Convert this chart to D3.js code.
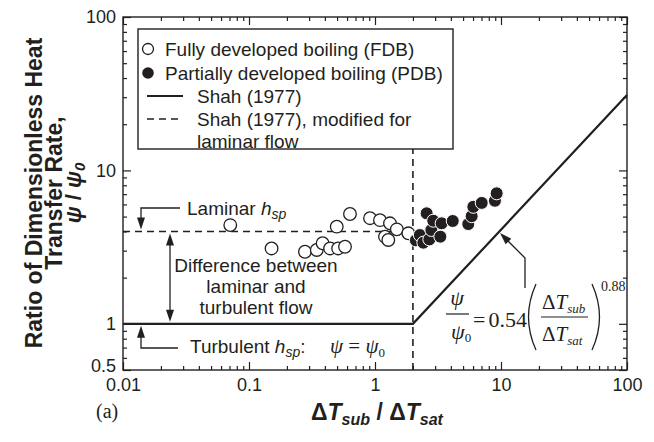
<!DOCTYPE html>
<html><head><meta charset="utf-8">
<script src="https://cdn.jsdelivr.net/npm/d3@7"></script>
<style>body{margin:0;background:#fff}svg{display:block}</style>
</head><body><svg id="c" width="654" height="442"></svg>
<script>
// ---- data ----
const fdbX = [0.071, 0.151, 0.278, 0.345, 0.384, 0.44, 0.51, 0.578, 0.497, 0.633, 0.913, 1.095, 1.315, 1.49, 1.2, 1.275, 1.84];
const fdbY = [4.40, 3.10, 2.95, 3.03, 3.35, 3.10, 3.10, 3.18, 4.30, 5.20, 4.88, 4.74, 4.52, 4.13, 3.70, 3.52, 3.89];
const pdbX = [2.11, 2.27, 2.42, 2.57, 2.7, 2.8, 2.9, 3.3, 3.38, 4.14, 5.5, 5.85, 6.03, 7.03, 8.95, 9.24];
const pdbY = [3.50, 3.79, 3.38, 5.25, 3.55, 4.09, 4.70, 3.70, 4.52, 4.68, 4.47, 5.03, 5.79, 6.14, 6.34, 7.09];
const shahX = [0.01, 2, 100];
const shahY = [1, 1, 31];
const lamX = [0.01, 2];
const lamY = [4, 4];
const regimeX = 2;
const xTicks = [0.01, 0.1, 1, 10, 100];
const xTickLabels = ["0.01", "0.1", "1", "10", "100"];
const yTicks = [0.5, 1, 10, 100];
const yTickLabels = ["0.5", "1", "10", "100"];
const legendLabels = ["Fully developed boiling (FDB)", "Partially developed boiling (PDB)", "Shah (1977)", "Shah (1977), modified for", "laminar flow"];

// ---- setup ----
const W = 654, H = 442, m = {l: 123, r: 27, t: 17, b: 72};
const SANS = "'Liberation Sans', Arial, Helvetica, sans-serif";
const SERIF = "'Liberation Serif', 'Times New Roman', serif";
const INK = "#231f20";
const svg = d3.select("#c");
const x = d3.scaleLog().domain([0.01, 100]).range([m.l, W - m.r]);
const y = d3.scaleLog().domain([0.5, 100]).range([H - m.b, m.t]);
const X0 = m.l, X1 = W - m.r, Y0 = H - m.b, Y1 = m.t;

const xMinor = [];
[0.01, 0.1, 1, 10].forEach(d => { for (let k = 2; k <= 9; k++) xMinor.push(d * k); });
const yMinor = [0.6, 0.7, 0.8, 0.9];
[1, 10].forEach(d => { for (let k = 2; k <= 9; k++) yMinor.push(d * k); });

function styleAxis(g) {
  g.select(".domain").remove();
  g.selectAll(".tick line").attr("stroke", INK).attr("stroke-width", 1.2);
  g.selectAll("text").attr("font-family", SANS).attr("font-size", 18).attr("fill", INK);
}
// bottom
svg.append("g").attr("transform", `translate(0,${Y0})`)
  .call(d3.axisBottom(x).tickValues(xTicks).tickFormat((d, i) => xTickLabels[i]).tickSize(-8).tickPadding(8)).call(styleAxis);
svg.append("g").attr("transform", `translate(0,${Y0})`)
  .call(d3.axisBottom(x).tickValues(xMinor).tickFormat("").tickSize(-4)).call(styleAxis);
// top
svg.append("g").attr("transform", `translate(0,${Y1})`)
  .call(d3.axisTop(x).tickValues(xTicks).tickFormat("").tickSize(-8)).call(styleAxis);
svg.append("g").attr("transform", `translate(0,${Y1})`)
  .call(d3.axisTop(x).tickValues(xMinor).tickFormat("").tickSize(-4)).call(styleAxis);
// left
const gl = svg.append("g").attr("transform", `translate(${X0},0)`)
  .call(d3.axisLeft(y).tickValues(yTicks).tickFormat((d, i) => yTickLabels[i]).tickSize(-8).tickPadding(7)).call(styleAxis);
gl.selectAll(".tick").filter(d => d === 0.5).select("text").attr("dy", "0.1em");
svg.append("g").attr("transform", `translate(${X0},0)`)
  .call(d3.axisLeft(y).tickValues(yMinor).tickFormat("").tickSize(-4)).call(styleAxis);
// right
svg.append("g").attr("transform", `translate(${X1},0)`)
  .call(d3.axisRight(y).tickValues(yTicks).tickFormat("").tickSize(-8)).call(styleAxis);
svg.append("g").attr("transform", `translate(${X1},0)`)
  .call(d3.axisRight(y).tickValues(yMinor).tickFormat("").tickSize(-4)).call(styleAxis);

svg.append("rect").attr("x", X0).attr("y", Y1).attr("width", X1 - X0).attr("height", Y0 - Y1)
  .attr("fill", "none").attr("stroke", INK).attr("stroke-width", 1.4);

// ---- legend geometry ----
const LG = {x: 138, y: 29, w: 315, h: 120};

// ---- lines ----
const line = d3.line().x(d => x(d[0])).y(d => y(d[1]));
svg.append("path").datum(shahX.map((v, i) => [v, shahY[i]])).attr("d", line)
  .attr("fill", "none").attr("stroke", INK).attr("stroke-width", 2.2);
svg.append("path").datum(lamX.map((v, i) => [v, lamY[i]])).attr("d", line)
  .attr("fill", "none").attr("stroke", INK).attr("stroke-width", 1.6).attr("stroke-dasharray", "7,5");
svg.append("line").attr("x1", x(regimeX)).attr("x2", x(regimeX)).attr("y1", Y0).attr("y2", LG.y + LG.h)
  .attr("stroke", INK).attr("stroke-width", 1.6).attr("stroke-dasharray", "7,5");

// ---- points ----
svg.append("g").selectAll("circle").data(fdbX.map((v, i) => [v, fdbY[i]])).join("circle")
  .attr("cx", d => x(d[0])).attr("cy", d => y(d[1])).attr("r", 6.3)
  .attr("fill", "#fff").attr("stroke", INK).attr("stroke-width", 1.3);
svg.append("g").selectAll("circle").data(pdbX.map((v, i) => [v, pdbY[i]])).join("circle")
  .attr("cx", d => x(d[0])).attr("cy", d => y(d[1])).attr("r", 6.5)
  .attr("fill", INK).attr("stroke", "#fff").attr("stroke-width", 1);

// ---- legend ----
const lg = svg.append("g");
lg.append("rect").attr("x", LG.x).attr("y", LG.y).attr("width", LG.w).attr("height", LG.h)
  .attr("fill", "#fff").attr("stroke", INK).attr("stroke-width", 1.4);
const rowY = [49, 73, 96, 119, 141];
lg.append("circle").attr("cx", 148).attr("cy", rowY[0]).attr("r", 5.5).attr("fill", "#fff").attr("stroke", INK).attr("stroke-width", 1.3);
lg.append("circle").attr("cx", 148).attr("cy", rowY[1]).attr("r", 5.8).attr("fill", INK);
lg.append("line").attr("x1", 147).attr("x2", 183).attr("y1", rowY[2]).attr("y2", rowY[2]).attr("stroke", INK).attr("stroke-width", 2);
lg.append("line").attr("x1", 147).attr("x2", 183).attr("y1", rowY[3]).attr("y2", rowY[3]).attr("stroke", INK).attr("stroke-width", 1.6).attr("stroke-dasharray", "7,5");
const legX = [165, 165, 197, 197, 197];
legendLabels.forEach((t, i) => {
  lg.append("text").attr("x", legX[i]).attr("y", rowY[i] + 6.8).text(t)
    .attr("font-family", SANS).attr("font-size", 19).attr("fill", INK);
});

// ---- arrows ----
function arrowHead(tx, ty, fx, fy, len = 12, half = 4) {
  const dx = tx - fx, dy = ty - fy, L = Math.hypot(dx, dy), ux = dx / L, uy = dy / L;
  const bx = tx - ux * len, by = ty - uy * len;
  svg.append("path").attr("d", `M${tx},${ty}L${bx - uy * half},${by + ux * half}L${bx + uy * half},${by - ux * half}Z`).attr("fill", INK);
}
function poly(pts) {
  svg.append("path").attr("d", d3.line()(pts)).attr("fill", "none").attr("stroke", INK).attr("stroke-width", 1.3);
}
const yLam = y(lamY[0]), yTurb = y(shahY[0]);
poly([[180, 208], [141, 208], [141, yLam - 8]]);
arrowHead(141, yLam - 2, 141, 208);
poly([[170, yLam + 8], [170, yTurb - 8]]);
arrowHead(170, yLam + 2, 170, yTurb);
arrowHead(170, yTurb - 2, 170, yLam);
poly([[178, 348], [141, 348], [141, yTurb + 8]]);
arrowHead(141, yTurb + 2, 141, 348);
poly([[525, 288], [525, 258], [505, 238]]);
arrowHead(500, 233, 525, 258);

// ---- annotations ----
function txt(xp, yp, opts = {}) {
  return svg.append("text").attr("x", xp).attr("y", yp).attr("font-family", opts.ff || SANS)
    .attr("font-size", opts.fs || 19).attr("fill", INK).attr("text-anchor", opts.anchor || "start");
}
let t = txt(187, 215);
t.append("tspan").text("Laminar ");
t.append("tspan").text("h").attr("font-style", "italic");
t.append("tspan").text("sp").attr("font-style", "italic").attr("font-size", 14).attr("dy", 4);

["Difference between", "laminar and", "turbulent flow"].forEach((s, i) => {
  txt(256, 272 + i * 21, {anchor: "middle"}).text(s);
});

t = txt(190, 353);
t.append("tspan").text("Turbulent ");
t.append("tspan").text("h").attr("font-style", "italic");
t.append("tspan").text("sp").attr("font-style", "italic").attr("font-size", 14).attr("dy", 4);
t.append("tspan").text(":").attr("dy", -4);
t = txt(330, 353, {ff: SERIF, fs: 21});
t.append("tspan").text("ψ").attr("font-style", "italic");
t.append("tspan").text(" = ");
t.append("tspan").text("ψ").attr("font-style", "italic");
t.append("tspan").text("0").attr("font-size", 13).attr("dy", 4);

// equation
txt(457, 305, {ff: SERIF, fs: 22, anchor: "middle"}).attr("font-style", "italic").text("ψ");
svg.append("line").attr("x1", 446).attr("x2", 469).attr("y1", 314).attr("y2", 314).attr("stroke", INK).attr("stroke-width", 1.2);
t = txt(451, 339, {ff: SERIF, fs: 22});
t.append("tspan").text("ψ").attr("font-style", "italic");
t.append("tspan").text("0").attr("font-size", 13).attr("dy", 3);
t = txt(473, 327, {ff: SERIF, fs: 22});
t.append("tspan").text("=");
t.append("tspan").text("0.54").attr("dx", 3);
svg.append("path").attr("d", "M536,284 Q521,317 536,350").attr("fill", "none").attr("stroke", INK).attr("stroke-width", 1.3);
svg.append("path").attr("d", "M592,284 Q607,317 592,350").attr("fill", "none").attr("stroke", INK).attr("stroke-width", 1.3);
t = txt(542, 309, {ff: SERIF, fs: 21});
t.append("tspan").text("Δ");
t.append("tspan").text("T").attr("font-style", "italic");
t.append("tspan").text("sub").attr("font-style", "italic").attr("font-size", 13).attr("dy", 4);
svg.append("line").attr("x1", 541).attr("x2", 588).attr("y1", 317).attr("y2", 317).attr("stroke", INK).attr("stroke-width", 1.2);
t = txt(542, 341, {ff: SERIF, fs: 21});
t.append("tspan").text("Δ");
t.append("tspan").text("T").attr("font-style", "italic");
t.append("tspan").text("sat").attr("font-style", "italic").attr("font-size", 13).attr("dy", 4);
txt(601, 291, {ff: SERIF, fs: 14}).text("0.88");

// ---- axis titles ----
const yt = svg.append("g").attr("transform", "translate(0,193) rotate(-90)");
["Ratio of Dimensionless Heat", "Transfer Rate,"].forEach((s, i) => {
  yt.append("text").attr("x", 0).attr("y", 42 + i * 20).attr("text-anchor", "middle")
    .attr("font-family", SANS).attr("font-size", 23).attr("font-weight", "bold").attr("fill", INK).text(s);
});
t = yt.append("text").attr("x", 0).attr("y", 81).attr("text-anchor", "middle")
  .attr("font-family", SANS).attr("font-size", 22).attr("font-weight", "bold").attr("fill", INK);
t.append("tspan").text("ψ").attr("font-style", "italic");
t.append("tspan").text(" / ");
t.append("tspan").text("ψ").attr("font-style", "italic");
t.append("tspan").text("0").attr("font-style", "italic").attr("font-size", 15).attr("dy", 4);

t = txt(311, 420, {fs: 23}).attr("font-weight", "bold");
t.append("tspan").text("Δ");
t.append("tspan").text("T").attr("font-style", "italic");
t.append("tspan").text("sub").attr("font-style", "italic").attr("font-size", 16).attr("dy", 5);
t.append("tspan").text(" / ").attr("dy", -5);
t.append("tspan").text("Δ");
t.append("tspan").text("T").attr("font-style", "italic");
t.append("tspan").text("sat").attr("font-style", "italic").attr("font-size", 16).attr("dy", 5);

txt(96, 418, {ff: SERIF, fs: 20}).text("(a)");
</script></body></html>
